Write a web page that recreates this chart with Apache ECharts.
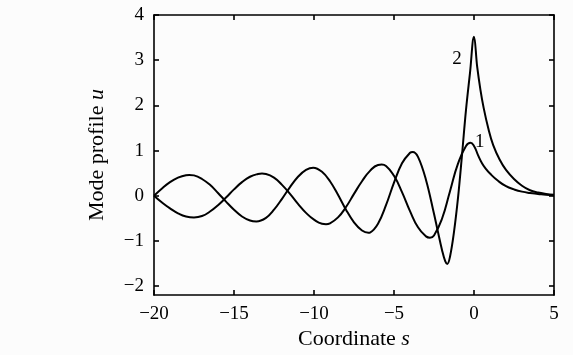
<!DOCTYPE html>
<html>
<head>
<meta charset="utf-8">
<script src="https://cdn.jsdelivr.net/npm/echarts@6/dist/echarts.min.js"></script>
<style>
  html, body { margin: 0; padding: 0; background: #fcfcfc; }
  #chart { width: 573px; height: 355px; }
</style>
</head>
<body>
<div id="chart"></div>
<script>
// values
const xTicks = [-20, -15, -10, -5, 0, 5];
const yTicks = [-2, -1, 0, 1, 2, 3, 4];

// curve 1: [s, u]
const curve1 = [
  [-20, 0], [-19.5, -0.15], [-19, -0.28], [-18.5, -0.39], [-18, -0.46], [-17.5, -0.48],
  [-17, -0.45], [-16.5, -0.35], [-16, -0.21], [-15.5, -0.04], [-15, 0.14],
  [-14.5, 0.3], [-14, 0.42], [-13.5, 0.48], [-13.25, 0.49], [-13, 0.48],
  [-12.5, 0.4], [-12, 0.24], [-11.5, 0.04], [-11, -0.18], [-10.5, -0.38],
  [-10, -0.53], [-9.5, -0.62], [-9.25, -0.63], [-9, -0.61], [-8.5, -0.48],
  [-8, -0.25], [-7.5, 0.04], [-7, 0.32], [-6.5, 0.55], [-6, 0.68], [-5.77, 0.69],
  [-5.5, 0.66], [-5, 0.44], [-4.5, 0.08], [-4, -0.34], [-3.5, -0.7], [-3, -0.9],
  [-2.75, -0.93], [-2.5, -0.88], [-2, -0.51], [-1.5, 0.1], [-1, 0.71],
  [-0.5, 1.1], [-0.22, 1.17], [0, 1.1], [0.25, 0.9], [0.5, 0.72], [0.75, 0.59],
  [1, 0.49], [1.5, 0.33], [2, 0.21], [2.5, 0.14], [3, 0.09], [3.5, 0.06],
  [4, 0.04], [4.5, 0.02], [5, 0.01]
];

// curve 2: [s, u]
const curve2 = [
  [-20, 0], [-19.5, 0.16], [-19, 0.3], [-18.5, 0.4], [-18, 0.455], [-17.8, 0.46],
  [-17.5, 0.45], [-17, 0.37], [-16.5, 0.24], [-16, 0.06], [-15.5, -0.13],
  [-15, -0.31], [-14.5, -0.46], [-14, -0.55], [-13.6, -0.57], [-13, -0.49],
  [-12.5, -0.31], [-12, -0.07], [-11.5, 0.19], [-11, 0.42], [-10.5, 0.57],
  [-10.05, 0.62], [-9.5, 0.53], [-9, 0.32], [-8.5, 0.02], [-8, -0.31],
  [-7.5, -0.59], [-7, -0.77], [-6.6, -0.82], [-6.5, -0.815], [-6, -0.62],
  [-5.5, -0.21], [-5, 0.29], [-4.5, 0.72], [-4, 0.95], [-3.83, 0.97],
  [-3.5, 0.86], [-3, 0.35], [-2.5, -0.4], [-2.29, -0.74], [-2, -1.2],
  [-1.8, -1.45], [-1.67, -1.51], [-1.5, -1.35], [-1.25, -0.8], [-1, -0.05],
  [-0.75, 0.9], [-0.5, 1.9], [-0.25, 2.72], [0, 3.52], [0.2, 2.85],
  [0.4, 2.35], [0.6, 1.95], [0.9, 1.48], [1.2, 1.12], [1.6, 0.8], [2, 0.57],
  [2.5, 0.37], [3, 0.22], [3.5, 0.12], [4, 0.07], [4.5, 0.04], [5, 0.02]
];

const curveLabels = [
  { name: '1', coord: [0.36, 1.18] },
  { name: '2', coord: [-1.06, 3.02] }
];

const chart = echarts.init(document.getElementById('chart'));
const font = '"Liberation Serif", "DejaVu Serif", serif';
const minus = v => String(v).replace('-', '\u2212');

const frameLine = { show: true, onZero: false, lineStyle: { color: '#000', width: 1.6 } };
const inTick = { show: true, inside: true, length: 5, lineStyle: { color: '#000', width: 1.6 } };
const nameStyle = {
  fontFamily: font, fontSize: 22, color: '#000',
  rich: { i: { fontFamily: font, fontStyle: 'italic', fontSize: 22, color: '#000' } }
};

const option = {
  backgroundColor: '#fcfcfc',
  animation: false,
  textStyle: { fontFamily: font },
  grid: { left: 154, right: 19, top: 15, bottom: 56 },
  xAxis: [
    {
      type: 'value', min: -20, max: 5, interval: 5, position: 'bottom',
      name: 'Coordinate {i|s}', nameLocation: 'middle', nameGap: 30,
      nameTextStyle: nameStyle,
      axisLine: frameLine, axisTick: inTick, splitLine: { show: false },
      axisLabel: { color: '#000', fontSize: 19, fontFamily: font, margin: 9, formatter: minus }
    },
    {
      type: 'value', min: -20, max: 5, interval: 5, position: 'top',
      axisLine: frameLine, axisTick: inTick, splitLine: { show: false },
      axisLabel: { show: false }
    }
  ],
  yAxis: [
    {
      type: 'value', min: -2.2, max: 4, position: 'left',
      name: 'Mode profile {i|u}', nameLocation: 'middle', nameGap: 46,
      nameTextStyle: nameStyle,
      axisLine: frameLine,
      axisTick: Object.assign({ customValues: yTicks }, inTick),
      splitLine: { show: false },
      axisLabel: { customValues: yTicks, color: '#000', fontSize: 19, fontFamily: font, margin: 10, formatter: minus }
    },
    {
      type: 'value', min: -2.2, max: 4, position: 'right',
      axisLine: frameLine,
      axisTick: Object.assign({ customValues: yTicks }, inTick),
      splitLine: { show: false },
      axisLabel: { show: false }
    }
  ],
  series: [
    {
      name: '1', type: 'line', data: curve1, smooth: 0.5,
      showSymbol: false, xAxisIndex: 0, yAxisIndex: 0,
      lineStyle: { color: '#000', width: 2 }
    },
    {
      name: '2', type: 'line', data: curve2, smooth: 0.4,
      showSymbol: false, xAxisIndex: 0, yAxisIndex: 0,
      lineStyle: { color: '#000', width: 2 },
      markPoint: {
        symbol: 'circle', symbolSize: 0, silent: true,
        label: { show: true, position: 'inside', color: '#000', fontSize: 19, fontFamily: font, formatter: p => p.name },
        data: curveLabels.map(l => ({ name: l.name, coord: l.coord }))
      }
    }
  ]
};
chart.setOption(option);
</script>
</body>
</html>
